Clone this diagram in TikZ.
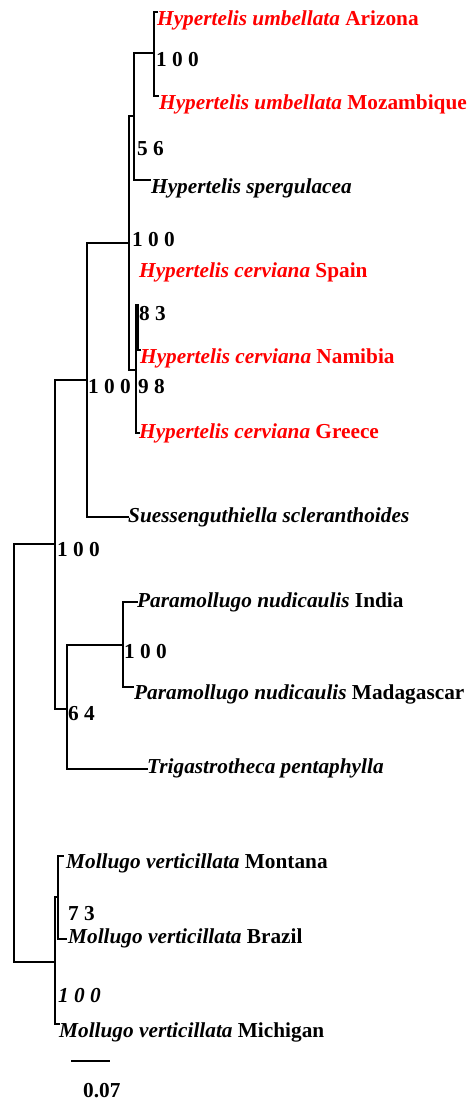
\documentclass[tikz,border=0pt]{standalone}
\usepackage{fontspec}
\setmainfont{Liberation Serif}
\begin{document}
\begin{tikzpicture}[x=1pt,y=-1pt,
  branch/.style={line width=2.5pt,line cap=rect,line join=miter},
  thinbranch/.style={line width=1.6pt,line cap=rect},
  lbl/.style={anchor=base west,inner sep=0pt,font=\fontsize{21.3}{25}\selectfont\bfseries},
  hot/.style={lbl,text=red}]
\useasboundingbox (0,0) rectangle (468,1104);
% tree node coordinates
\coordinate (nR) at (14,750);
\coordinate (nA) at (55,544);
\coordinate (nB) at (87,380);
\coordinate (nC) at (129,243);
\coordinate (nD) at (134,116);
\coordinate (nE) at (154,53);
\coordinate (nJ) at (136,370);
\coordinate (nK) at (138,305);
\coordinate (nF) at (67,709);
\coordinate (nG) at (123,645);
\coordinate (nH) at (55,962);
\coordinate (nI) at (58,897);
% tip coordinates
\coordinate (tArz) at (157,12);
\coordinate (tMoz) at (158,96);
\coordinate (tSpe) at (150,180);
\coordinate (tNam) at (140,350);
\coordinate (tGre) at (139,433);
\coordinate (tSue) at (128,517);
\coordinate (tInd) at (137,602);
\coordinate (tMad) at (133,687);
\coordinate (tTri) at (147,769);
\coordinate (tMon) at (63,856);
\coordinate (tBra) at (66,939);
\coordinate (tMic) at (59,1024);
\coordinate (sb1) at (71,1061);
\coordinate (sb2) at (110,1061);
% branches
\draw[branch] (tArz) -| (nE) |- (tMoz);
\draw[branch] (nE) -| (nD) |- (tSpe);
\draw[branch] (nK) |- (tNam);
\draw[thinbranch] (nK) -| (nJ) |- (tGre);
\draw[branch] (nD) -| (nC) |- (nJ);
\draw[branch] (nC) -| (nB) |- (tSue);
\draw[branch] (tInd) -| (nG) |- (tMad);
\draw[branch] (nG) -| (nF) |- (tTri);
\draw[branch] (nB) -| (nA) |- (nF);
\draw[thinbranch] (tMon) -| (nI) |- (tBra);
\draw[thinbranch] (nI) -| (nH) |- (tMic);
\draw[branch] (nA) -| (nR) |- (nH);
\draw[line width=1.2pt] (sb1) -- (sb2);
% labels
\node[hot] (lArz) at (157,25) {\textit{Hypertelis umbellata} Arizona};
\node[lbl] (bE) at (156,66) {1 0 0};
\node[hot] (lMoz) at (159,109) {\textit{Hypertelis umbellata} Mozambique};
\node[lbl] (bD) at (137,155) {5 6};
\node[lbl] (lSpe) at (151,193) {\textit{Hypertelis spergulacea}};
\node[lbl] (bC) at (132,246) {1 0 0};
\node[hot] (lSpa) at (139,277) {\textit{Hypertelis cerviana} Spain};
\node[lbl] (bK) at (139,320) {8 3};
\node[hot] (lNam) at (140,363) {\textit{Hypertelis cerviana} Namibia};
\node[lbl] (bB) at (88,393) {1 0 0};
\node[lbl] (bJ) at (138,393) {9 8};
\node[hot] (lGre) at (139,438) {\textit{Hypertelis cerviana} Greece};
\node[lbl] (lSue) at (128,522) {\textit{Suessenguthiella scleranthoides}};
\node[lbl] (bA) at (57,556) {1 0 0};
\node[lbl] (lInd) at (137,607) {\textit{Paramollugo nudicaulis} India};
\node[lbl] (bG) at (124,658) {1 0 0};
\node[lbl] (lMad) at (134,699) {\textit{Paramollugo nudicaulis} Madagascar};
\node[lbl] (bF) at (68,720) {6 4};
\node[lbl] (lTri) at (147,773) {\textit{Trigastrotheca pentaphylla}};
\node[lbl] (lMon) at (66,868) {\textit{Mollugo verticillata} Montana};
\node[lbl] (bI) at (68,920) {7 3};
\node[lbl] (lBra) at (68,943) {\textit{Mollugo verticillata} Brazil};
\node[lbl] (bH) at (58,1002) {\textit{1 0 0}};
\node[lbl] (lMic) at (59,1037) {\textit{Mollugo verticillata} Michigan};
\node[lbl] (lSc) at (83,1097) {0.07};
\end{tikzpicture}
\end{document}
